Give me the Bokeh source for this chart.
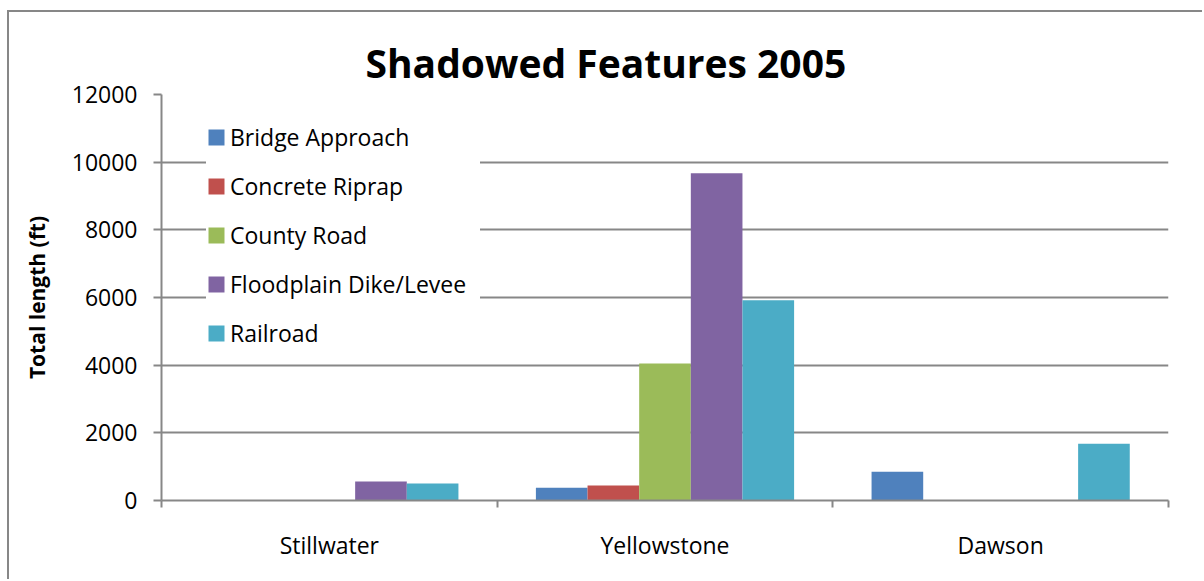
from bokeh.plotting import figure
from bokeh.models import ColumnDataSource, Range1d, FixedTicker, Legend, LegendItem
from bokeh.transform import dodge
from bokeh.embed import file_html
from bokeh.resources import INLINE

categories = ["Stillwater", "Yellowstone", "Dawson"]
series = ["Bridge Approach", "Concrete Riprap", "County Road", "Floodplain Dike/Levee", "Railroad"]
bridge_approach = [0, 380, 850]
concrete_riprap = [0, 440, 0]
county_road = [0, 4050, 0]
floodplain_dike = [560, 9670, 0]
railroad = [500, 5920, 1680]
y_ticks = [0, 2000, 4000, 6000, 8000, 10000, 12000]
colors = ["#4F81BD", "#C0504D", "#9BBB59", "#8064A2", "#4BACC6"]

values = [bridge_approach, concrete_riprap, county_road, floodplain_dike, railroad]

FONT = "Open Sans"
GRAY = "#878787"

data = {"x": [i + 0.5 for i in range(len(categories))]}
for i, v in enumerate(values):
    data["s%d" % i] = v
source = ColumnDataSource(data)

p = figure(width=1195, height=569, x_range=Range1d(0, len(categories)),
           y_range=Range1d(0, 12000), output_backend="svg", toolbar_location=None,
           min_border_left=152, min_border_right=36, min_border_top=82, min_border_bottom=81,
           margin=(10, 0, 0, 7),
           styles={"border-top": "2px solid #878787", "border-left": "2px solid #878787"})

bw = 1 / 6.5
renderers = []
for i, v in enumerate(values):
    r = p.vbar(x=dodge("x", (i - 2) * bw, range=p.x_range), top="s%d" % i, width=bw,
               source=source, fill_color=colors[i], line_color=None)
    renderers.append(r)

# title
p.title.text = "Shadowed Features 2005"
p.title.text_font = FONT
p.title.text_font_size = "39px"
p.title.text_font_style = "bold"
p.title.text_color = "black"
p.title.align = "left"
p.title.offset = 204
p.title.standoff = 12

# x axis
xa = p.xaxis[0]
xa.ticker = FixedTicker(ticks=[i + 0.5 for i in range(len(categories))],
                        minor_ticks=list(range(len(categories) + 1)))
xa.major_label_overrides = {i + 0.5: c for i, c in enumerate(categories)}
xa.major_tick_line_color = None
xa.major_tick_in = 0
xa.major_tick_out = 0
xa.minor_tick_line_color = GRAY
xa.minor_tick_line_width = 2
xa.minor_tick_in = 0
xa.minor_tick_out = 7
xa.axis_line_color = GRAY
xa.axis_line_width = 2
xa.major_label_text_font = FONT
xa.major_label_text_font_size = "23px"
xa.major_label_text_color = "black"
xa.major_label_standoff = 21

# y axis
ya = p.yaxis[0]
ya.ticker = FixedTicker(ticks=y_ticks, minor_ticks=[])
ya.axis_label = "Total length (ft)"
ya.axis_label_text_font = FONT
ya.axis_label_text_font_size = "21px"
ya.axis_label_text_font_style = "bold"
ya.axis_label_text_color = "black"
ya.axis_label_standoff = 18
ya.major_label_text_font = FONT
ya.major_label_text_font_size = "23px"
ya.major_label_text_color = "black"
ya.major_label_standoff = 16
ya.major_tick_line_color = GRAY
ya.major_tick_line_width = 2
ya.major_tick_in = 0
ya.major_tick_out = 8
ya.axis_line_color = GRAY
ya.axis_line_width = 2

p.xgrid.grid_line_color = None
p.ygrid.grid_line_color = GRAY
p.ygrid.grid_line_width = 2
p.outline_line_color = None

legend = Legend(items=[LegendItem(label=s, renderers=[r]) for s, r in zip(series, renderers)],
                location=(45, 151), glyph_width=20, glyph_height=20, label_height=24,
                label_width=250, spacing=17, padding=12, margin=0, label_standoff=4,
                label_text_font=FONT, label_text_font_size="23px", label_text_color="black",
                border_line_color=None, background_fill_color="white", background_fill_alpha=1.0)
p.add_layout(legend, "center")

open("out.html", "w").write(file_html(p, INLINE))
